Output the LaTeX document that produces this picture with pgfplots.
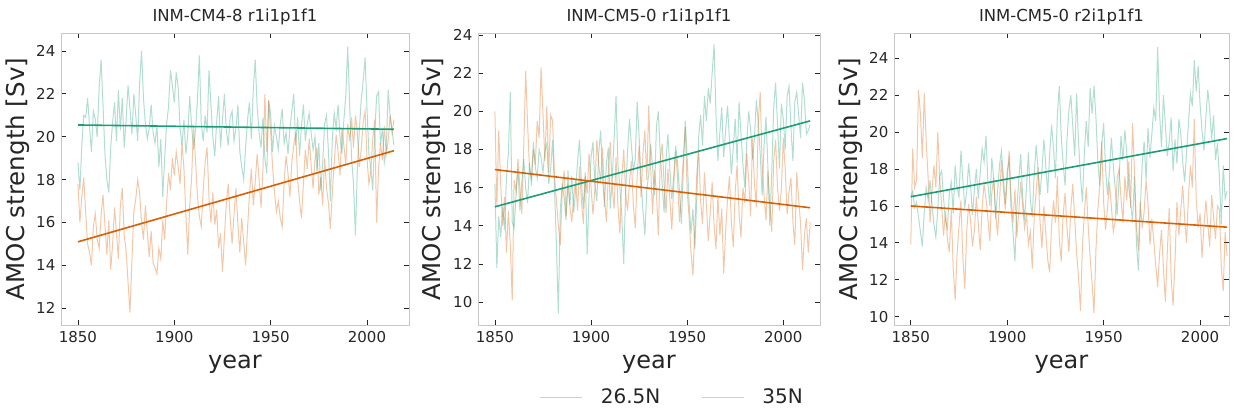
\documentclass[border=0pt]{standalone}
\usepackage{fontspec}
\setmainfont{DejaVu Sans}
\usepackage{pgfplots}
\usepackage{pgfplotstable}
\pgfplotsset{compat=1.18}
\definecolor{cg}{HTML}{1B9E77}
\definecolor{co}{HTML}{D95F02}
\definecolor{txt}{HTML}{262626}

% Panel 1 INM-CM4-8
\pgfplotstableread[row sep=\\]{y\\
18.8\\17.5\\19.6\\21.0\\20.9\\21.8\\20.5\\19.3\\21.2\\20.8\\
20.0\\22.3\\23.6\\21.5\\19.2\\18.0\\17.4\\19.5\\20.7\\21.6\\
19.8\\22.2\\20.3\\21.8\\19.5\\20.8\\22.4\\21.3\\20.1\\22.0\\
21.0\\19.8\\22.5\\24.0\\21.8\\20.6\\19.9\\20.4\\21.5\\20.2\\
19.7\\20.5\\18.6\\19.9\\17.2\\19.0\\20.6\\21.4\\23.1\\22.4\\
21.6\\23.0\\22.3\\20.4\\19.6\\20.8\\19.2\\20.1\\21.9\\20.5\\
19.4\\20.3\\21.7\\23.8\\20.6\\19.8\\21.0\\20.2\\23.1\\21.5\\
20.0\\19.1\\20.7\\21.9\\19.5\\20.8\\22.0\\20.3\\19.6\\20.9\\
21.2\\19.8\\20.4\\21.5\\19.3\\18.6\\18.0\\19.5\\20.8\\21.6\\
19.9\\22.2\\23.6\\21.4\\20.2\\19.5\\20.9\\19.0\\18.3\\21.7\\
21.0\\19.3\\20.5\\20.0\\19.4\\20.6\\21.3\\19.7\\20.2\\19.2\\
20.4\\21.2\\22.0\\19.6\\20.9\\19.1\\20.5\\21.5\\19.8\\20.6\\
21.1\\20.2\\19.4\\20.0\\18.4\\19.7\\17.5\\18.8\\20.6\\21.0\\
19.3\\17.0\\19.9\\21.1\\20.4\\21.5\\20.0\\19.2\\20.8\\21.9\\
24.2\\21.5\\19.0\\17.8\\15.4\\18.5\\20.3\\21.7\\22.6\\23.7\\
21.3\\19.2\\18.5\\17.5\\20.1\\21.9\\22.1\\19.6\\20.4\\18.8\\
19.4\\22.2\\21.0\\20.3\\19.6\\}\PAg
\pgfplotstableread[row sep=\\]{y\\
17.8\\16.0\\17.2\\18.1\\16.5\\15.0\\14.6\\14.0\\15.8\\16.4\\
15.2\\14.8\\16.3\\17.3\\15.9\\14.5\\16.1\\13.8\\15.0\\16.7\\
15.5\\14.3\\16.8\\17.6\\15.4\\14.7\\13.2\\11.8\\14.2\\16.5\\
17.1\\18.0\\17.4\\16.0\\15.2\\16.8\\15.5\\14.4\\15.6\\14.1\\
13.9\\13.6\\14.8\\14.3\\16.1\\15.2\\16.9\\18.3\\17.5\\19.0\\
18.2\\19.3\\18.6\\17.8\\19.7\\18.5\\16.4\\14.5\\16.8\\18.1\\
20.5\\18.9\\17.2\\16.3\\15.8\\17.5\\18.8\\19.5\\17.2\\16.0\\
17.4\\15.9\\16.6\\14.8\\15.5\\13.7\\15.3\\16.9\\17.8\\16.2\\
15.0\\16.4\\17.6\\15.9\\14.6\\16.2\\15.1\\14.0\\15.7\\17.3\\
18.5\\16.8\\17.9\\19.2\\18.0\\16.7\\18.4\\22.0\\19.3\\21.7\\
20.2\\18.6\\17.4\\16.5\\17.0\\16.2\\15.8\\17.9\\19.1\\18.3\\
17.2\\18.8\\19.6\\20.2\\18.0\\17.0\\16.2\\17.8\\19.4\\18.5\\
19.9\\18.7\\17.6\\18.9\\19.5\\17.3\\18.1\\16.8\\19.0\\17.6\\
16.9\\15.7\\17.4\\18.8\\20.1\\19.3\\18.2\\20.4\\19.6\\18.7\\
20.6\\19.8\\20.9\\19.5\\21.0\\20.2\\18.6\\19.4\\20.7\\21.2\\
19.0\\17.8\\18.4\\19.9\\20.8\\16.0\\18.5\\19.7\\18.9\\20.5\\
19.2\\19.8\\21.0\\20.2\\20.8\\}\PAo

% Panel 2 INM-CM5-0 r1
\pgfplotstableread[row sep=\\]{y\\
16.2\\11.8\\14.5\\13.4\\15.0\\13.8\\16.5\\17.8\\21.0\\14.2\\
13.9\\15.6\\17.0\\14.8\\16.3\\17.5\\16.0\\15.2\\17.3\\16.1\\
18.4\\17.1\\16.5\\18.0\\17.6\\16.8\\17.9\\18.3\\16.2\\17.0\\
18.5\\15.9\\13.0\\9.4\\14.8\\16.2\\15.5\\14.3\\16.9\\15.1\\
16.6\\14.7\\15.9\\17.4\\18.5\\16.3\\14.9\\16.8\\12.5\\15.7\\
17.6\\18.4\\16.2\\15.3\\17.8\\19.0\\16.5\\15.0\\17.3\\18.1\\
14.9\\16.4\\18.6\\20.8\\17.2\\16.0\\14.5\\12.0\\15.8\\17.9\\
19.6\\18.2\\16.9\\17.5\\20.5\\18.7\\16.4\\14.8\\13.5\\15.9\\
16.7\\18.3\\17.1\\15.6\\19.2\\20.0\\17.8\\16.2\\14.7\\17.5\\
18.8\\17.0\\15.4\\16.6\\18.2\\17.3\\15.8\\14.1\\16.9\\19.5\\
17.6\\15.2\\13.6\\14.9\\12.8\\15.4\\18.7\\19.8\\18.2\\20.8\\
19.5\\21.2\\20.4\\22.0\\23.5\\19.8\\17.4\\18.9\\20.2\\17.6\\
19.0\\20.3\\18.5\\16.7\\18.1\\19.6\\17.3\\20.5\\18.8\\17.2\\
16.0\\18.4\\20.0\\19.1\\17.5\\18.6\\20.6\\19.4\\17.8\\15.6\\
18.2\\19.7\\17.1\\14.0\\16.8\\20.2\\21.5\\19.3\\17.0\\20.4\\
19.6\\18.0\\20.8\\21.3\\19.1\\17.4\\20.5\\21.0\\19.8\\18.6\\
21.5\\20.6\\18.8\\19.0\\19.3\\}\PBg
\pgfplotstableread[row sep=\\]{y\\
20.0\\15.0\\19.0\\16.2\\14.0\\15.5\\12.6\\14.8\\13.0\\10.1\\
16.4\\15.8\\17.5\\16.0\\14.6\\18.2\\22.1\\19.3\\17.0\\16.5\\
18.0\\17.2\\19.5\\18.6\\22.3\\19.9\\17.4\\20.3\\16.8\\19.8\\
19.5\\16.6\\15.3\\14.0\\13.0\\15.8\\16.9\\14.5\\16.2\\15.0\\
14.2\\15.6\\16.4\\14.8\\17.1\\15.3\\14.1\\16.6\\15.7\\17.8\\
16.0\\14.6\\15.9\\18.5\\17.2\\16.3\\18.1\\15.4\\14.2\\16.8\\
18.4\\16.1\\14.9\\17.6\\15.0\\13.6\\16.5\\18.0\\15.7\\14.8\\
16.3\\17.4\\15.1\\13.9\\16.6\\18.2\\15.5\\17.8\\19.0\\16.4\\
20.3\\17.1\\14.6\\16.9\\15.8\\13.5\\17.5\\18.3\\16.2\\14.7\\
17.0\\15.4\\13.8\\16.1\\17.9\\16.5\\14.2\\15.8\\17.6\\19.2\\
15.9\\14.4\\12.6\\11.4\\13.9\\16.7\\18.0\\15.3\\14.1\\16.8\\
15.1\\13.2\\14.7\\16.3\\14.0\\12.8\\15.6\\13.5\\14.9\\11.5\\
13.7\\15.4\\16.6\\14.2\\12.9\\15.8\\17.2\\14.6\\13.4\\16.0\\
15.2\\17.8\\16.4\\14.5\\18.6\\16.2\\15.0\\19.5\\21.0\\17.3\\
15.6\\14.3\\16.9\\15.1\\13.7\\17.4\\18.5\\16.0\\14.8\\15.9\\
18.6\\17.0\\14.6\\15.8\\16.5\\14.2\\13.0\\16.8\\15.4\\14.1\\
11.7\\13.5\\14.4\\12.6\\14.2\\}\PBo

% Panel 3 INM-CM5-0 r2
\pgfplotstableread[row sep=\\]{y\\
16.5\\16.8\\15.9\\16.2\\15.4\\14.6\\13.8\\15.7\\17.0\\16.3\\
17.4\\16.1\\15.0\\14.3\\15.8\\17.6\\17.9\\16.4\\15.2\\14.8\\
16.7\\17.3\\15.6\\18.2\\17.0\\16.5\\19.0\\17.4\\15.9\\16.8\\
18.3\\17.1\\15.5\\16.9\\18.0\\16.4\\17.8\\19.1\\18.4\\19.8\\
17.2\\16.0\\18.6\\17.5\\15.3\\16.8\\18.2\\19.0\\17.6\\16.1\\
17.9\\18.5\\15.8\\14.6\\13.0\\15.9\\17.4\\18.8\\16.5\\15.2\\
17.0\\18.9\\16.3\\15.4\\17.7\\19.3\\18.0\\16.6\\17.9\\19.6\\
18.2\\16.7\\18.8\\20.4\\19.1\\17.5\\20.9\\22.5\\19.8\\18.3\\
17.1\\19.6\\21.2\\22.0\\20.3\\18.7\\22.1\\19.4\\17.6\\16.2\\
18.9\\20.6\\19.2\\22.4\\21.0\\22.5\\20.8\\18.4\\17.1\\19.3\\
20.5\\18.0\\16.6\\17.8\\19.7\\18.2\\16.9\\15.5\\17.4\\19.8\\
18.5\\20.1\\18.9\\17.0\\16.2\\15.1\\17.6\\14.0\\12.5\\15.8\\
18.3\\19.5\\17.4\\20.2\\18.6\\19.9\\21.3\\20.6\\24.6\\21.0\\
19.2\\22.0\\20.4\\18.7\\19.5\\20.8\\17.9\\19.6\\18.3\\20.7\\
19.9\\18.4\\17.3\\18.9\\20.5\\22.1\\21.4\\23.9\\22.2\\23.6\\
21.5\\20.1\\19.0\\20.8\\22.3\\21.2\\19.6\\20.9\\18.5\\19.4\\
17.6\\15.0\\18.2\\16.4\\16.8\\}\PCg
\pgfplotstableread[row sep=\\]{y\\
13.9\\19.1\\17.0\\17.4\\22.3\\21.0\\18.6\\22.1\\19.5\\17.5\\
15.1\\16.8\\18.2\\17.0\\20.0\\17.5\\16.0\\14.4\\15.7\\14.2\\
13.5\\15.8\\12.6\\10.9\\13.4\\14.9\\16.3\\13.2\\11.5\\14.6\\
16.1\\15.2\\13.8\\14.7\\16.5\\15.0\\13.6\\15.9\\17.2\\16.4\\
15.3\\14.1\\16.7\\17.5\\15.6\\14.4\\16.2\\18.5\\17.0\\15.8\\
17.4\\19.0\\16.5\\15.1\\16.9\\14.3\\15.7\\17.3\\16.0\\14.8\\
15.5\\13.9\\14.6\\12.6\\15.4\\16.8\\18.1\\15.2\\13.7\\16.0\\
14.5\\13.1\\12.4\\14.9\\16.3\\15.1\\17.6\\14.2\\13.0\\15.5\\
16.7\\14.8\\13.5\\15.9\\17.2\\15.3\\13.4\\12.1\\10.3\\13.8\\
15.6\\17.0\\14.9\\13.2\\11.8\\10.2\\13.6\\15.8\\17.1\\19.5\\
16.2\\14.7\\15.9\\17.3\\16.0\\14.6\\15.2\\17.5\\18.0\\16.4\\
15.1\\17.6\\16.3\\18.4\\15.9\\20.5\\17.8\\15.0\\13.6\\16.2\\
14.8\\15.7\\17.4\\16.1\\13.9\\15.3\\14.1\\12.8\\11.6\\13.4\\
14.7\\12.6\\10.8\\13.5\\15.9\\12.1\\10.6\\13.0\\16.2\\14.4\\
15.8\\17.1\\15.3\\14.0\\16.6\\18.2\\17.0\\20.7\\16.4\\14.8\\
15.6\\13.2\\14.9\\16.3\\15.0\\13.8\\16.6\\15.4\\14.2\\16.0\\
15.8\\12.7\\11.4\\14.6\\13.3\\}\PCo

\pgfplotsset{
  panel/.style={
    scale only axis, height=292pt,
    anchor=south west,
    axis line style={draw=black!22, line width=0.8pt},
    tick align=inside, xtick pos=both, ytick pos=both,
    major tick length=5pt,
    tick style={draw=black!85, line width=0.8pt},
    xtick={1850,1900,1950,2000},
    /pgf/number format/assume math mode=true,
    /pgf/number format/1000 sep={},
    ticklabel style={font=\fontsize{15}{18}\selectfont, text=txt},
    xticklabel style={inner sep=0pt, anchor=north, yshift=-6pt},
    yticklabel style={inner sep=0pt, anchor=east, xshift=-5.5pt},
    title style={font=\fontsize{16.5}{20}\selectfont, text=txt, at={(axis description cs:0.5,1)}, anchor=base, yshift=5pt, inner sep=0pt},
    xlabel style={font=\fontsize{24}{28}\selectfont, text=txt, at={(axis description cs:0.5,0)}, anchor=base, yshift=-43pt, inner sep=0pt},
    ylabel style={font=\fontsize{24.5}{28}\selectfont, text=txt, inner sep=0pt, anchor=base},
    xlabel={year}, ylabel={AMOC strength [Sv]},
    clip=true,
  },
  light/.style={line width=1.0pt, opacity=0.34},
  trend/.style={line width=1.6pt},
}

\begin{document}
\begin{tikzpicture}[x=1pt,y=1pt]
\path[use as bounding box] (0,0) rectangle (1240,415);

\begin{axis}[panel, at={(61pt,90pt)}, width=348pt,
  xmin=1841.2, xmax=2021.8, ymin=11.22, ymax=24.84,
  ytick={12,14,...,24},
  ylabel style={at={(axis description cs:-0.1063,0.5)}},
  title={INM-CM4-8 r1i1p1f1}]
\addplot[cg, light] table[x expr=\coordindex+1850, y=y] {\PAg};
\addplot[co, light] table[x expr=\coordindex+1850, y=y] {\PAo};
\addplot[cg, trend] coordinates {(1850,20.55) (2014,20.35)};
\addplot[co, trend] coordinates {(1850,15.1) (2014,19.35)};
\end{axis}

\begin{axis}[panel, at={(478pt,90pt)}, width=342pt,
  xmin=1841.2, xmax=2019.1, ymin=8.81, ymax=24.1,
  ytick={10,12,...,24},
  ylabel style={at={(axis description cs:-0.1082,0.5)}},
  title={INM-CM5-0 r1i1p1f1},
  legend columns=2,
  legend style={at={(axis description cs:0.181,-0.2466)}, anchor=west,
    draw=none, fill=none, inner sep=0pt, outer sep=0pt,
    font=\fontsize{20}{24}\selectfont, text=txt,
    nodes={inner sep=0pt, anchor=west},
    /tikz/every odd column/.append style={column sep=18pt},
    /tikz/every even column/.append style={column sep=41pt}},
  legend image code/.code={\draw[#1] (0pt,0pt) -- (42pt,0pt);}]
\addplot[cg, light] table[x expr=\coordindex+1850, y=y] {\PBg};
\addlegendentry{26.5N}
\addplot[co, light] table[x expr=\coordindex+1850, y=y] {\PBo};
\addlegendentry{35N}
\addplot[cg, trend, forget plot] coordinates {(1850,15.0) (2014,19.5)};
\addplot[co, trend, forget plot] coordinates {(1850,16.95) (2014,14.95)};
\end{axis}

\begin{axis}[panel, at={(894pt,90pt)}, width=335pt,
  xmin=1841.3, xmax=2015.0, ymin=9.55, ymax=25.37,
  ytick={10,12,...,24},
  ylabel style={at={(axis description cs:-0.1104,0.5)}},
  title={INM-CM5-0 r2i1p1f1}]
\addplot[cg, light] table[x expr=\coordindex+1850, y=y] {\PCg};
\addplot[co, light] table[x expr=\coordindex+1850, y=y] {\PCo};
\addplot[cg, trend] coordinates {(1850,16.5) (2014,19.65)};
\addplot[co, trend] coordinates {(1850,16.0) (2014,14.85)};
\end{axis}
\end{tikzpicture}
\end{document}
